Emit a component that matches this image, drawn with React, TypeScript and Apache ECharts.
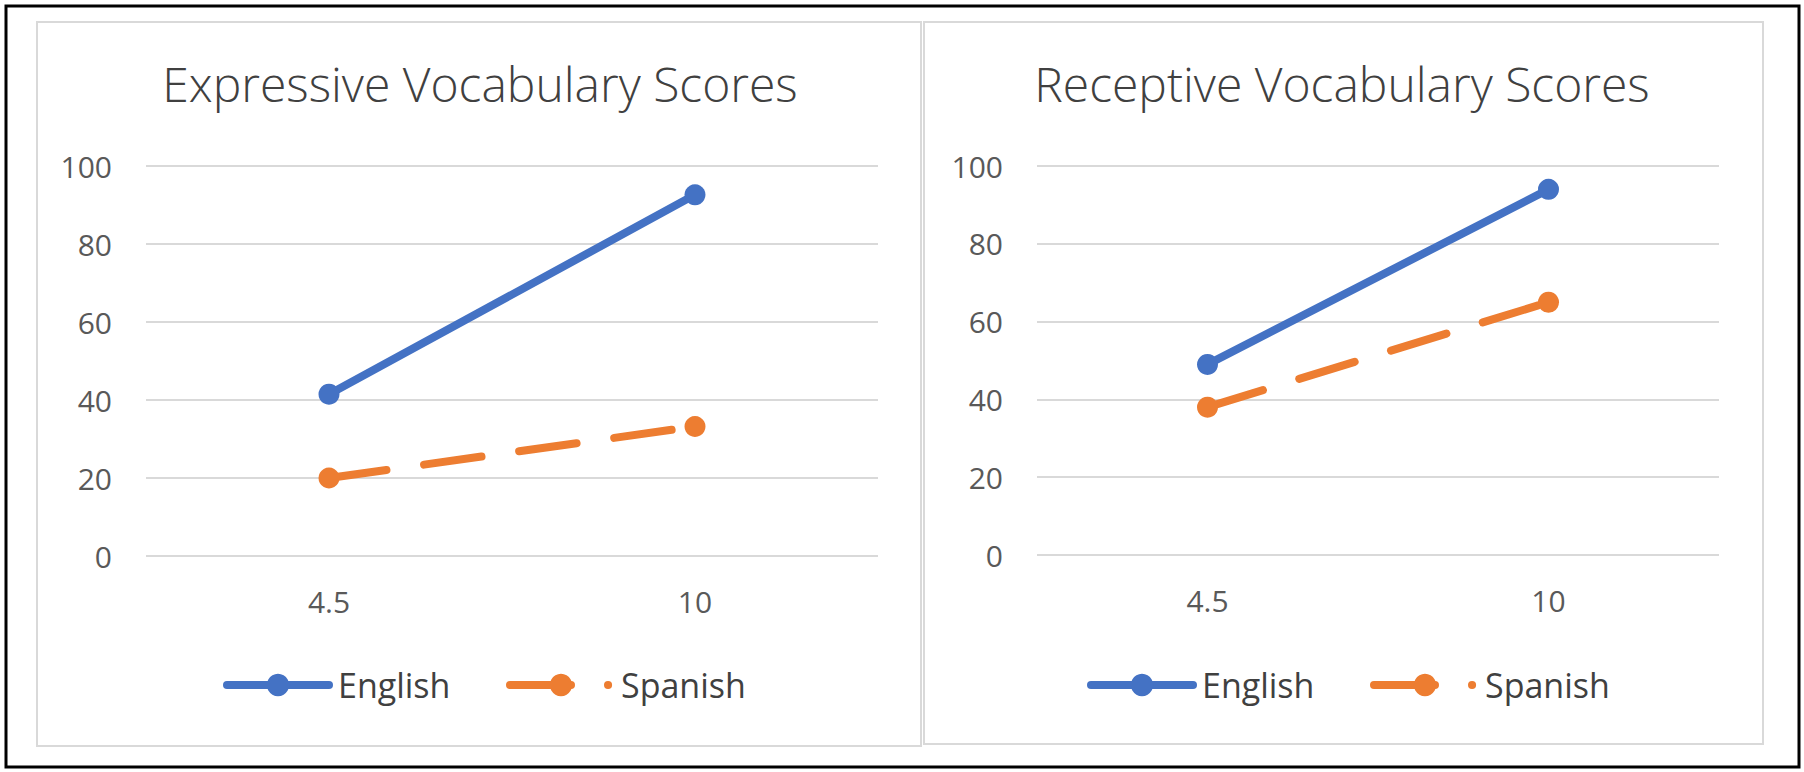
import React, { useEffect, useRef } from "react";
import * as echarts from "echarts";

const categories = ["4.5", "10"];
const expressiveEnglish = [41.5, 92.6];
const expressiveSpanish = [20, 33.2];
const receptiveEnglish = [49, 94];
const receptiveSpanish = [38, 65];
const yTicks = { min: 0, max: 100, interval: 20 };
const titles = ["Expressive Vocabulary Scores", "Receptive Vocabulary Scores"];
const seriesNames = ["English", "Spanish"];

const BLUE = "#4472C4";
const ORANGE = "#ED7D31";
const FONT = "'Open Sans', 'Noto Sans', sans-serif";

export default function App() {
  const ref = useRef<HTMLDivElement>(null);
  useEffect(() => {
    if (!ref.current) return;
    const chart = echarts.init(ref.current, undefined, { renderer: "svg" });
    const grids = [
      { left: 146, top: 166, width: 732, height: 390 },
      { left: 1037, top: 166, width: 682, height: 389 },
    ];
    const xAxis = grids.map((_, i) => ({
      type: "category" as const,
      gridIndex: i,
      data: categories,
      boundaryGap: true,
      axisLine: { show: false },
      axisTick: { show: false },
      axisLabel: { color: "#595959", fontSize: 30, fontFamily: FONT, margin: 30 },
      splitLine: { show: false },
    }));
    const yAxis = grids.map((_, i) => ({
      type: "value" as const,
      gridIndex: i,
      min: yTicks.min,
      max: yTicks.max,
      interval: yTicks.interval,
      axisLine: { show: false },
      axisTick: { show: false },
      axisLabel: { color: "#595959", fontSize: 30, fontFamily: FONT, margin: 34 },
      splitLine: { lineStyle: { color: "#d9d9d9", width: 2 } },
    }));
    const mk = (name: string, data: number[], idx: number, color: string, dashed: boolean) => ({
      name,
      type: "line" as const,
      xAxisIndex: idx,
      yAxisIndex: idx,
      data,
      symbol: "circle",
      symbolSize: 21,
      itemStyle: { color },
      lineStyle: dashed
        ? { color, width: 8, type: [58, 38], cap: "round" as const }
        : { color, width: 8, cap: "round" as const },
      z: dashed ? 2 : 3,
    });
    const legendBase = {
      itemWidth: 102,
      itemHeight: 28,
      textStyle: { fontSize: 34, fontFamily: FONT, color: "#404040", padding: [0, 0, 0, 4] },
      selectedMode: false as const,
      padding: 0,
      top: 668,
    };
    const legEnglish = (left: number) => ({
      ...legendBase,
      left,
      data: [seriesNames[0]],
      lineStyle: { width: 8, type: "solid", cap: "round" },
    });
    const legSpanish = (left: number) => ({
      ...legendBase,
      left,
      data: [seriesNames[1]],
      lineStyle: { width: 8, type: [61, 37, 0.1, 200], cap: "round", dashOffset: 0 },
    });
    const titleStyle = { fontSize: 48, fontWeight: 300, fontFamily: FONT, color: "#404040" };
    chart.setOption({
      animation: false,
      backgroundColor: "#ffffff",
      title: [
        { text: titles[0], left: 480, top: 59, textAlign: "center", padding: 0, textStyle: titleStyle },
        { text: titles[1], left: 1342, top: 59, textAlign: "center", padding: 0, textStyle: titleStyle },
      ],
      legend: [legEnglish(223), legSpanish(506), legEnglish(1087), legSpanish(1370)],
      grid: grids,
      xAxis,
      yAxis,
      graphic: [
        { type: "rect", shape: { x: 37, y: 22, width: 884, height: 724 }, style: { fill: "none", stroke: "#d9d9d9", lineWidth: 2 }, silent: true },
        { type: "rect", shape: { x: 924, y: 22, width: 839, height: 722 }, style: { fill: "none", stroke: "#d9d9d9", lineWidth: 2 }, silent: true },
        { type: "rect", shape: { x: 6, y: 6, width: 1793, height: 761 }, style: { fill: "none", stroke: "#000000", lineWidth: 3 }, silent: true },
      ],
      series: [
        mk(seriesNames[0], expressiveEnglish, 0, BLUE, false),
        mk(seriesNames[1], expressiveSpanish, 0, ORANGE, true),
        mk(seriesNames[0], receptiveEnglish, 1, BLUE, false),
        mk(seriesNames[1], receptiveSpanish, 1, ORANGE, true),
      ],
    });
    return () => chart.dispose();
  }, []);
  return (
    <div
      ref={ref}
      style={{ position: "fixed", left: 0, top: 0, width: 1804, height: 772, background: "#fff" }}
    />
  );
}
